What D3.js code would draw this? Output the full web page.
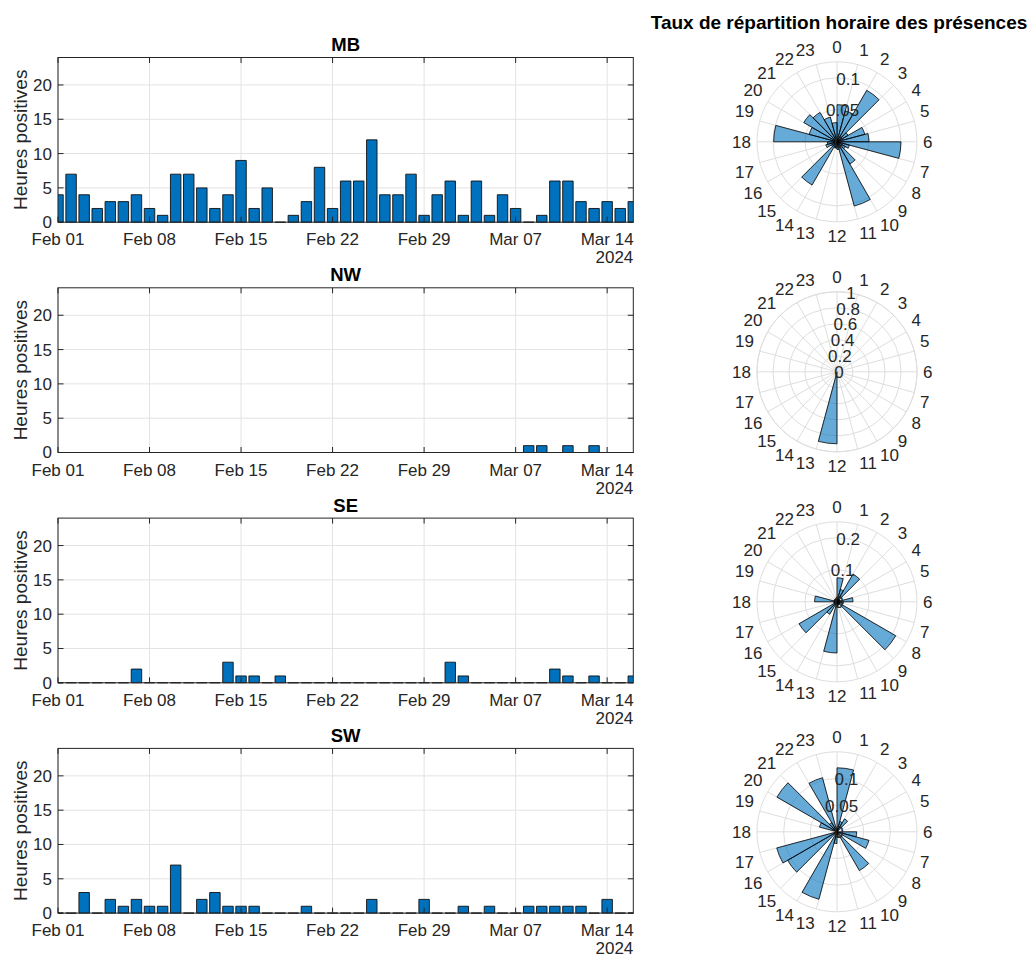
<!DOCTYPE html>
<html><head><meta charset="utf-8">
<script src="https://cdn.jsdelivr.net/npm/d3@7"></script>
<style>
body{margin:0;background:#fff}
svg{display:block}
text{font-family:"Liberation Sans",Arial,sans-serif;fill:#262626}
</style>
</head><body>
<svg id="c" width="1031" height="957"></svg>
<script>
// ---------- data ----------
const firstDay = "2024-02-01";
const lastDay = "2024-03-16";
const tickDates = ["2024-02-01","2024-02-08","2024-02-15","2024-02-22","2024-02-29","2024-03-07","2024-03-14"];
const yearLabel = "2024";
const yTicks = [0,5,10,15,20];
const stations = ["MB","NW","SE","SW"];

const mbHours = [4,7,4,2,3,3,4,2,1,7, 7,5,2,4,9,2,5,0,1,3, 8,2,6,6,12,4,4,7,1,4, 6,1,6,1,4,2,0,1,6,6, 3,2,3,2,3];
const nwHours = [0,0,0,0,0,0,0,0,0,0, 0,0,0,0,0,0,0,0,0,0, 0,0,0,0,0,0,0,0,0,0, 0,0,0,0,0,0,1,1,0,1, 0,1,0,0,0];
const seHours = [0,0,0,0,0,0,2,0,0,0, 0,0,0,3,1,1,0,1,0,0, 0,0,0,0,0,0,0,0,0,0, 3,1,0,0,0,0,0,0,2,1, 0,1,0,0,1];
const swHours = [0,0,3,0,2,1,2,1,1,7, 0,2,3,1,1,1,0,0,0,1, 0,0,0,0,2,0,0,0,2,0, 0,1,0,1,0,0,1,1,1,1, 1,0,2,0,0];

const hourLabels = ["0","1","2","3","4","5","6","7","8","9","10","11","12","13","14","15","16","17","18","19","20","21","22","23"];
const mbRate = [0.058,0.05,0.093,0.02,0.045,0.05,0.10,0.02,0.015,0.04,0.104,0.012,0.01,0.01,0.078,0.01,0.018,0.015,0.099,0.045,0.06,0.053,0.04,0.03];
const nwRate = [0,0,0,0,0,0,0,0,0,0,0,0,0.9,0,0,0,0,0,0,0,0,0,0,0];
const seRate = [0.075,0.04,0.10,0.01,0.01,0.05,0.02,0.01,0.212,0.01,0.01,0.015,0.16,0.01,0.045,0.137,0.01,0.01,0.07,0.01,0.01,0.01,0.01,0.01];
const swRate = [0.12,0.02,0.028,0,0,0,0.037,0.062,0,0.084,0,0.01,0.022,0.131,0,0.107,0.117,0,0,0.034,0.13,0.02,0.105,0];
const rMaxes = [0.125, 1, 0.25, 0.15];
const rTicks = [[0,0.05,0.1],[0,0.2,0.4,0.6,0.8,1],[0,0.1,0.2],[0,0.05,0.1]];
const polarTitle = "Taux de répartition horaire des présences";
const yAxisLabel = "Heures positives";

// ---------- drawing ----------
const svg = d3.select("#c");
const parse = d3.timeParse("%Y-%m-%d");
const fmt = d3.timeFormat("%b %d");
const days = d3.timeDay.range(parse(firstDay), d3.timeDay.offset(parse(lastDay),1));
const hoursAll = [mbHours,nwHours,seHours,swHours];
const ratesAll = [mbRate,nwRate,seRate,swRate];

const L = 58, R = 633.3, H = 164.7;
const axisCol = "#262626", gridCol = "#e3e3e3";
const x = d3.scaleTime().domain([parse(firstDay), parse(lastDay)]).range([L, R]);
const dayPx = x(parse("2024-02-02")) - x(parse("2024-02-01"));

stations.forEach((name, i) => {
  const top = 57.5 + 230.3*i, bot = top + H;
  const y = d3.scaleLinear().domain([0,24]).range([bot, top]);
  const g = svg.append("g");
  const clipId = "clip"+i;
  svg.append("clipPath").attr("id", clipId).append("rect")
    .attr("x", L).attr("y", top-1).attr("width", R-L).attr("height", H+2);

  // grid
  g.selectAll(".gx").data(tickDates).join("line")
    .attr("x1", d=>x(parse(d))).attr("x2", d=>x(parse(d)))
    .attr("y1", top).attr("y2", bot).attr("stroke", gridCol).attr("stroke-width",1);
  g.selectAll(".gy").data(yTicks).join("line")
    .attr("x1", L).attr("x2", R).attr("y1", d=>y(d)).attr("y2", d=>y(d))
    .attr("stroke", gridCol).attr("stroke-width",1);

  // bars
  const bw = dayPx*0.8;
  g.append("g").attr("clip-path", `url(#${clipId})`)
    .selectAll("path").data(days.map((d,k)=>({d, v: hoursAll[i][k]}))).join("path")
    .attr("d", o => {
      const x0 = x(o.d) - bw/2, x1 = x(o.d) + bw/2, y0 = y(0), y1 = y(o.v);
      return `M${x0},${y0}V${y1}H${x1}V${y0}Z`;
    })
    .attr("fill", "#0072BD").attr("stroke", "#111").attr("stroke-width", 0.9);

  // box
  g.append("rect").attr("x", L).attr("y", top).attr("width", R-L).attr("height", H)
    .attr("fill","none").attr("stroke", axisCol).attr("stroke-width",1);

  // ticks inward
  const tl = 5.5;
  tickDates.forEach(d => {
    const xx = x(parse(d));
    g.append("line").attr("x1",xx).attr("x2",xx).attr("y1",bot).attr("y2",bot-tl).attr("stroke",axisCol);
    g.append("line").attr("x1",xx).attr("x2",xx).attr("y1",top).attr("y2",top+tl).attr("stroke",axisCol);
    g.append("text").attr("x",xx).attr("y",bot+23).attr("text-anchor","middle")
      .attr("font-size",17).text(fmt(parse(d)));
  });
  yTicks.forEach(v => {
    const yy = y(v);
    g.append("line").attr("x1",L).attr("x2",L+tl).attr("y1",yy).attr("y2",yy).attr("stroke",axisCol);
    g.append("line").attr("x1",R).attr("x2",R-tl).attr("y1",yy).attr("y2",yy).attr("stroke",axisCol);
    g.append("text").attr("x",52).attr("y",yy).attr("dy","0.35em").attr("text-anchor","end")
      .attr("font-size",17).text(v);
  });
  g.append("text").attr("x", R).attr("y", bot+41).attr("text-anchor","end")
    .attr("font-size",17).text(yearLabel);
  g.append("text").attr("transform", `translate(20,${(top+bot)/2}) rotate(-90)`)
    .attr("dy","0.35em").attr("text-anchor","middle").attr("font-size",19).text(yAxisLabel);
  g.append("text").attr("x",(L+R)/2).attr("y",top-6.5).attr("text-anchor","middle")
    .attr("font-size",18.5).attr("font-weight","bold").style("fill","#000").text(name);

  // ---------- polar ----------
  const cx = 837, cy = 141.8 + 230*i, RR = 80;
  const r = d3.scaleLinear().domain([0, rMaxes[i]]).range([0, RR]);
  const pg = svg.append("g").attr("transform", `translate(${cx},${cy})`);
  const pGrid = "#dedede";
  const ang = d3.scaleLinear().domain([0,24]).range([0, 2*Math.PI]);
  pg.selectAll(".sp").data(d3.range(24)).join("line")
    .attr("x1",0).attr("y1",0)
    .attr("x2", h => RR*Math.sin(ang(h))).attr("y2", h => -RR*Math.cos(ang(h)))
    .attr("stroke", pGrid).attr("stroke-width",1);
  const circ = rTicks[i].filter(t=>t>0).concat([rMaxes[i]]);
  pg.selectAll(".ci").data(circ).join("circle").attr("r", d=>r(d))
    .attr("fill","none").attr("stroke", pGrid).attr("stroke-width",1);

  const arc = d3.arc().innerRadius(0);
  pg.selectAll(".w").data(ratesAll[i].map((v,h)=>({v,h})).filter(o=>o.v>0)).join("path")
    .attr("d", o => arc({outerRadius: r(o.v), startAngle: ang(o.h), endAngle: ang(o.h+1)}))
    .attr("fill","#0072BD").attr("fill-opacity",0.6)
    .attr("stroke","#000").attr("stroke-width",0.8).attr("stroke-linejoin","round");

  // r tick labels
  const la = 10*Math.PI/180;
  rTicks[i].forEach(t => {
    const rr = r(t);
    pg.append("text").attr("x", t===0 ? 2 : rr*Math.sin(la)).attr("y", -rr*Math.cos(la))
      .attr("dy","0.35em").attr("text-anchor","middle").attr("font-size",17).text(t);
  });
  // theta labels (aligned like MATLAB: box corner touches radius)
  const r0 = 86, halfH = 8.4, eps = 1e-6;
  hourLabels.forEach((lab, h) => {
    const a = ang(h), s = Math.sin(a), c = Math.cos(a);
    const px = r0*s, py = -r0*c;
    const anchor = s > eps ? "start" : (s < -eps ? "end" : "middle");
    const yc = py + (c > eps ? -halfH : (c < -eps ? halfH : 0));
    pg.append("text").attr("x", px).attr("y", yc)
      .attr("dy","0.35em").attr("text-anchor",anchor).attr("font-size",17).text(lab);
  });
});

svg.append("text").attr("x", 839).attr("y", 29).attr("text-anchor","middle")
  .attr("font-size",19).attr("font-weight","bold").style("fill","#000").text(polarTitle);
</script>
</body></html>
